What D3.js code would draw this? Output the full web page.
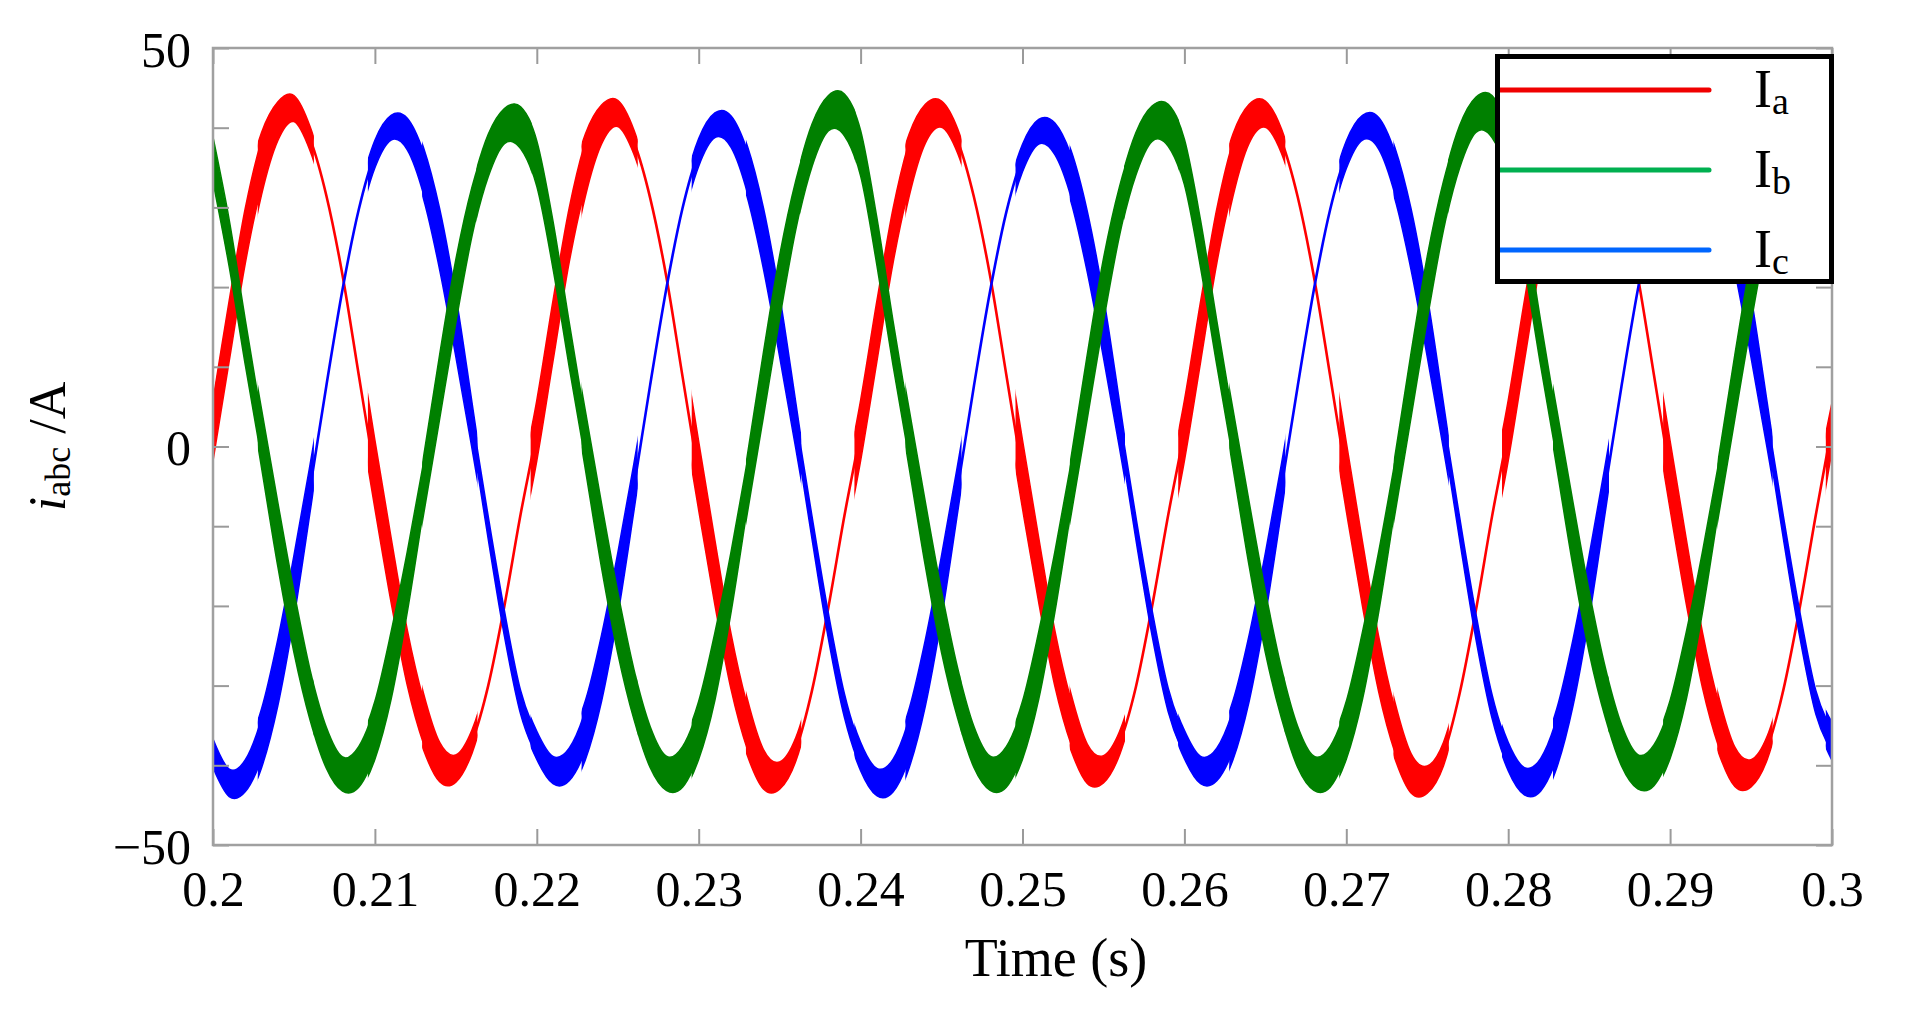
<!DOCTYPE html>
<html>
<head>
<meta charset="utf-8">
<script src="https://cdn.jsdelivr.net/npm/d3@7"></script>
<style>
html, body { margin: 0; padding: 0; background: #ffffff; }
svg { display: block; }
</style>
</head>
<body>
<svg id="chart" width="1910" height="1019"></svg>
<script>
// ---------------- data ----------------
const timeStart = 0.2;
const timeEnd = 0.3;
const timeStep = 0.001;

// phase currents in A, sampled every 1 ms from 0.200 s to 0.300 s
const currentA = [
  2, 14.5, 26.5, 35.5, 40.8, 42.4, 38.6, 31.5, 21.5, 9, -3.5, -15.5, -26.5, -34.5, -39.6, -40.4, -37, -30, -20, -8.5,
  2, 14.5, 26.5, 35.3, 40.4, 41.8, 38.2, 31.2, 21.3, 8.8, -3.7, -15.8, -27, -35.2, -40.5, -41.3, -38, -30.6, -20.3, -8.7,
  2, 14.4, 26.4, 35.3, 40.5, 41.7, 38.3, 31.3, 21.4, 9, -3.5, -15.5, -26.6, -34.6, -39.8, -40.5, -37.2, -30.2, -20.1, -8.6,
  2, 14.4, 26.4, 35.3, 40.5, 41.7, 38.3, 31.3, 21.3, 8.9, -3.8, -16, -27.3, -35.6, -41, -41.8, -38.6, -31, -20.6, -8.8,
  2, 14.5, 26.5, 35.5, 40.7, 42, 38.4, 31.4, 21.4, 9, -3.6, -15.7, -26.8, -34.9, -40.2, -41, -37.8, -30.5, -20.3, -8.6,
  2.5
];
const currentB = [
  36, 25.5, 13, 1, -11, -22, -31.2, -37.8, -41.1, -40.2, -35.6, -27.5, -17, -5, 7.5, 19.5, 29.5, 36.5, 40.2, 40,
  35.5, 25.3, 12.8, 0.8, -11.2, -22.1, -31.1, -37.7, -41, -40.2, -35.6, -27.6, -17, -4.8, 7.8, 20, 30.3, 37.8, 41.8, 41.6,
  36.8, 25.8, 13, 1, -11, -22, -31, -37.7, -41, -40.2, -35.6, -27.5, -17, -5, 7.5, 19.6, 29.6, 36.7, 40.5, 40.3,
  35.7, 25.4, 13, 1, -11, -22, -31, -37.7, -41, -40.2, -35.6, -27.5, -17, -4.9, 7.7, 19.9, 30.2, 37.6, 41.6, 41.4,
  36.6, 25.7, 13, 1, -11, -22, -30.9, -37.5, -40.8, -40, -35.5, -27.5, -17, -5, 7.5, 19.5, 29.5, 36.5, 40.2, 40,
  35.8
];
const currentC = [
  -38.5, -42.2, -41.3, -36.6, -28.4, -17.6, -5.2, 7.6, 19.7, 29.7, 36.7, 40, 39.2, 34.3, 26, 15.1, 2.6, -10.2, -22.2, -32.1,
  -37.5, -40.6, -39.9, -35.6, -27.8, -17.3, -5.1, 7.7, 19.8, 29.9, 36.9, 40.3, 39.5, 34.5, 26.1, 15.1, 2.6, -10.2, -22.4, -32.5,
  -38.9, -42.1, -41.3, -36.6, -28.4, -17.6, -5.2, 7.6, 19.5, 29.4, 36.2, 39.5, 38.6, 33.9, 25.7, 15, 2.6, -10.2, -22.1, -31.8,
  -37.4, -40.6, -39.9, -35.6, -27.8, -17.3, -5.1, 7.6, 19.7, 29.7, 36.6, 40, 39.3, 34.3, 26, 15.1, 2.6, -10.3, -22.5, -32.6,
  -38.9, -42, -41.2, -36.6, -28.4, -17.6, -5.2, 7.6, 19.6, 29.5, 36.3, 39.5, 38.7, 34, 25.8, 15, 2.6, -10.2, -22.2, -32.1,
  -37
];

// switching sectors: times (s) where the ripple band changes
const sectorStarts = [
  0.2,
  0.2028, 0.2062, 0.2096, 0.21295, 0.2163, 0.21965,
  0.2228, 0.2262, 0.2296, 0.23295, 0.2363, 0.23965,
  0.2428, 0.2462, 0.2496, 0.25295, 0.2563, 0.25965,
  0.2628, 0.2662, 0.2696, 0.27295, 0.2763, 0.27965,
  0.2828, 0.2862, 0.2896, 0.29295, 0.2963, 0.29965
];

// ripple half-amplitude (A) at start / middle / end of each sector
const rippleA = [
  [3.8, 3.8, 3.0],
  [4.2, 1.7, 1.5], [0, 0, 0], [4.4, 4.0, 2.8], [3.6, 1.8, 1.4], [0, 0, 0], [3.8, 3.8, 3.0],
  [4.2, 1.7, 1.5], [0, 0, 0], [4.4, 4.0, 2.8], [3.6, 1.8, 1.4], [0, 0, 0], [3.8, 3.8, 3.0],
  [4.2, 1.7, 1.5], [0, 0, 0], [4.4, 4.0, 2.8], [3.6, 1.8, 1.4], [0, 0, 0], [3.8, 3.8, 3.0],
  [4.2, 1.7, 1.5], [0, 0, 0], [4.4, 4.0, 2.8], [3.6, 1.8, 1.4], [0, 0, 0], [3.8, 3.8, 3.0],
  [4.2, 1.7, 1.5], [0, 0, 0], [4.4, 4.0, 2.8], [3.6, 1.8, 1.4], [0, 0, 0], [3.8, 3.8, 3.0]
];
const rippleB = [
  [2.8, 3.0, 2.6],
  [3.6, 4.2, 3.0], [3.0, 2.1, 2.8], [3.4, 4.4, 3.0], [3.6, 4.3, 2.8], [3.0, 2.2, 2.9], [2.8, 3.0, 2.6],
  [3.6, 4.2, 3.0], [3.0, 2.1, 2.8], [3.4, 4.4, 3.0], [3.6, 4.3, 2.8], [3.0, 2.2, 2.9], [2.8, 3.0, 2.6],
  [3.6, 4.2, 3.0], [3.0, 2.1, 2.8], [3.4, 4.4, 3.0], [3.6, 4.3, 2.8], [3.0, 2.2, 2.9], [2.8, 3.0, 2.6],
  [3.6, 4.2, 3.0], [3.0, 2.1, 2.8], [3.4, 4.4, 3.0], [3.6, 4.3, 2.8], [3.0, 2.2, 2.9], [2.8, 3.0, 2.6],
  [3.6, 4.2, 3.0], [3.0, 2.1, 2.8], [3.4, 4.4, 3.0], [3.6, 4.3, 2.8], [3.0, 2.2, 2.9], [2.8, 3.0, 2.6]
];
const rippleC = [
  [1.8, 1.7, 2.4],
  [3.6, 4.4, 2.8], [0, 0, 0], [1.8, 1.5, 2.6], [3.2, 4.2, 2.6], [1.3, 1.6, 1.4], [1.8, 1.7, 2.4],
  [3.6, 4.4, 2.8], [0, 0, 0], [1.8, 1.5, 2.6], [3.2, 4.2, 2.6], [1.3, 1.6, 1.4], [1.8, 1.7, 2.4],
  [3.6, 4.4, 2.8], [0, 0, 0], [1.8, 1.5, 2.6], [3.2, 4.2, 2.6], [1.3, 1.6, 1.4], [1.8, 1.7, 2.4],
  [3.6, 4.4, 2.8], [0, 0, 0], [1.8, 1.5, 2.6], [3.2, 4.2, 2.6], [1.3, 1.6, 1.4], [1.8, 1.7, 2.4],
  [3.6, 4.4, 2.8], [0, 0, 0], [1.8, 1.5, 2.6], [3.2, 4.2, 2.6], [1.3, 1.6, 1.4], [1.8, 1.7, 2.4]
];

const seriesSubscripts = ["a", "b", "c"];
const xTickValues = [0.2, 0.21, 0.22, 0.23, 0.24, 0.25, 0.26, 0.27, 0.28, 0.29, 0.3];
const xTickLabels = ["0.2", "0.21", "0.22", "0.23", "0.24", "0.25", "0.26", "0.27", "0.28", "0.29", "0.3"];
const yTickValues = [-50, -40, -30, -20, -10, 0, 10, 20, 30, 40, 50];
const yLabelValues = [-50, 0, 50];
const yLabelTexts = ["\u221250", "0", "50"];

// ---------------- drawing ----------------
const FONT = "'Liberation Serif', 'Times New Roman', Times, serif";
const plotColors = ["#ff0000", "#008000", "#0000ff"];
const legendColors = ["#f00000", "#00b050", "#0066ff"];

const svg = d3.select("#chart");
const defs = svg.append("defs");

const x = d3.scaleLinear().domain([timeStart, timeEnd]).range([213, 1832]);
const y = d3.scaleLinear().domain([-50, 50]).range([845, 48]);

defs.append("clipPath").attr("id", "plotClip")
  .append("rect")
  .attr("x", x(timeStart)).attr("y", y(50))
  .attr("width", x(timeEnd) - x(timeStart)).attr("height", y(-50) - y(50));

const times = currentA.map((_, k) => timeStart + k * timeStep);
const curve = d3.curveCardinal.tension(0);

function rippleAt(tri, t0, t1, t) {
  const tm = (t0 + t1) / 2;
  let h;
  if (t <= tm) h = tri[0] + (tri[1] - tri[0]) * (t - t0) / (tm - t0);
  else h = tri[1] + (tri[2] - tri[1]) * (t - tm) / (t1 - tm);
  return Math.max(0, h);
}

const plot = svg.append("g").attr("clip-path", "url(#plotClip)");

function drawSeries(key, values, ripple, color) {
  const g = plot.append("g");
  const pts = times.map((t, k) => ({ t: t, v: values[k] }));
  sectorStarts.forEach((s0, i) => {
    const s1 = i < sectorStarts.length - 1 ? sectorStarts[i + 1] : timeEnd;
    const tri = ripple[i];
    if (Math.max(tri[0], tri[1], tri[2]) <= 0) return;
    const sub = pts.filter(d => d.t >= s0 - 0.0021 && d.t <= s1 + 0.0021);
    const id = "clip-" + key + "-" + i;
    defs.append("clipPath").attr("id", id)
      .append("rect")
      .attr("x", x(s0) - 0.5).attr("y", y(50))
      .attr("width", x(s1) - x(s0) + 1).attr("height", y(-50) - y(50));
    const area = d3.area()
      .x(d => x(d.t))
      .y0(d => y(d.v - rippleAt(tri, s0, s1, d.t)))
      .y1(d => y(d.v + rippleAt(tri, s0, s1, d.t)))
      .curve(curve);
    g.append("path").datum(sub)
      .attr("clip-path", "url(#" + id + ")")
      .attr("fill", color)
      .attr("stroke", color)
      .attr("stroke-width", 1.5)
      .attr("stroke-linejoin", "round")
      .attr("d", area);
  });
  const line = d3.line().x(d => x(d.t)).y(d => y(d.v)).curve(curve);
  g.append("path").datum(pts)
    .attr("fill", "none")
    .attr("stroke", color)
    .attr("stroke-width", 2.6)
    .attr("stroke-linejoin", "round")
    .attr("d", line);
}

drawSeries("a", currentA, rippleA, plotColors[0]);
drawSeries("c", currentC, rippleC, plotColors[2]);
drawSeries("b", currentB, rippleB, plotColors[1]);

// axes (ticks inward on all four sides)
const tickColor = "#9a9a9a";
function styleAxis(g) {
  g.select(".domain").remove();
  g.selectAll(".tick line").attr("stroke", tickColor).attr("stroke-width", 2);
  g.selectAll(".tick text")
    .attr("fill", "#000")
    .style("font-family", FONT)
    .style("font-size", "50px");
}

const yLabelOf = v => {
  const i = yLabelValues.indexOf(v);
  return i >= 0 ? yLabelTexts[i] : "";
};

svg.append("g")
  .attr("transform", "translate(" + x(timeStart) + ",0)")
  .call(d3.axisLeft(y).tickValues(yTickValues).tickSize(-16).tickPadding(22).tickFormat(yLabelOf))
  .call(styleAxis)
  .selectAll(".tick text").attr("dy", "0.36em");

svg.append("g")
  .attr("transform", "translate(" + x(timeEnd) + ",0)")
  .call(d3.axisRight(y).tickValues(yTickValues).tickSize(-16).tickFormat(""))
  .call(styleAxis);

svg.append("g")
  .attr("transform", "translate(0," + y(-50) + ")")
  .call(d3.axisBottom(x).tickValues(xTickValues).tickSize(-16).tickPadding(25)
    .tickFormat((d, i) => xTickLabels[i]))
  .call(styleAxis);

svg.append("g")
  .attr("transform", "translate(0," + y(50) + ")")
  .call(d3.axisTop(x).tickValues(xTickValues).tickSize(-16).tickFormat(""))
  .call(styleAxis);

// plot frame
svg.append("rect")
  .attr("x", x(timeStart)).attr("y", y(50))
  .attr("width", x(timeEnd) - x(timeStart)).attr("height", y(-50) - y(50))
  .attr("fill", "none").attr("stroke", "#a0a0a0").attr("stroke-width", 2.5);

// axis titles
svg.append("text")
  .attr("x", 1056).attr("y", 976)
  .attr("text-anchor", "middle")
  .style("font-family", FONT).style("font-size", "54px")
  .attr("fill", "#000")
  .text("Time (s)");

const yTitle = svg.append("text")
  .attr("transform", "translate(65," + ((y(50) + y(-50)) / 2) + ") rotate(-90)")
  .attr("text-anchor", "middle")
  .style("font-family", FONT).style("font-size", "52px")
  .attr("fill", "#000");
yTitle.append("tspan").style("font-style", "italic").text("i");
yTitle.append("tspan").style("font-size", "36px").attr("dy", 5).text("abc");
yTitle.append("tspan").attr("dy", -5).text(" /A");

// legend
const legend = svg.append("g");
legend.append("rect")
  .attr("x", 1497.5).attr("y", 56.5).attr("width", 334).attr("height", 225)
  .attr("fill", "#ffffff");
seriesSubscripts.forEach((s, i) => {
  const ly = 90 + i * 80;
  legend.append("line")
    .attr("x1", 1500).attr("x2", 1709)
    .attr("y1", ly).attr("y2", ly)
    .attr("stroke", legendColors[i]).attr("stroke-width", 5)
    .attr("stroke-linecap", "round");
  const t = legend.append("text")
    .attr("x", 1754).attr("y", ly + 17)
    .style("font-family", FONT).style("font-size", "54px")
    .attr("fill", "#000");
  t.append("tspan").text("I");
  t.append("tspan").style("font-size", "38px").attr("dy", 7).text(s);
});
legend.append("rect")
  .attr("x", 1497.5).attr("y", 56.5).attr("width", 334).attr("height", 225)
  .attr("fill", "none").attr("stroke", "#000").attr("stroke-width", 5);
</script>
</body>
</html>
